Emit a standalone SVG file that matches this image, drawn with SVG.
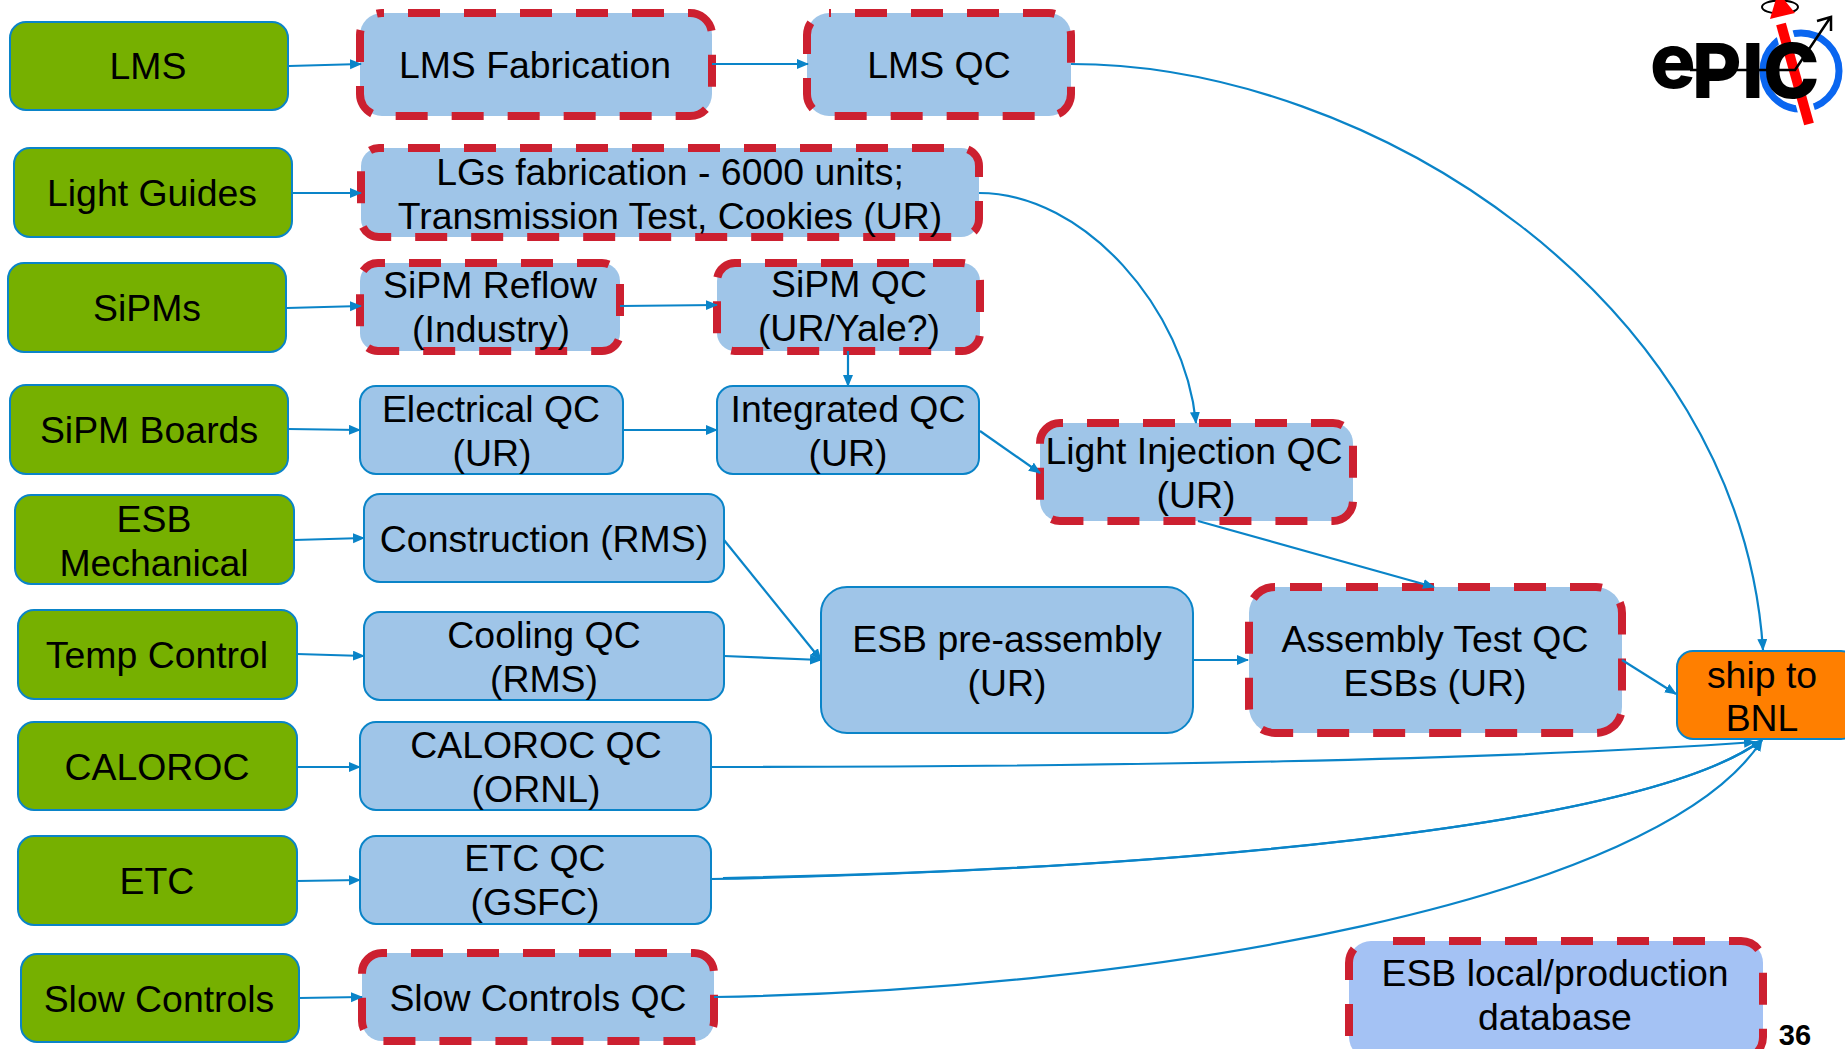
<svg xmlns="http://www.w3.org/2000/svg" width="1845" height="1049" viewBox="0 0 1845 1049">
<style>
.g{fill:#76B000;stroke:#0A84C8;stroke-width:2}
.b{fill:#9FC5E8;stroke:#0A84C8;stroke-width:2}
.o{fill:#FF7F00;stroke:#0A84C8;stroke-width:2}
.d{fill:#9FC5E8;stroke:none}
.e{fill:none;stroke:#CC2030;stroke-width:8;stroke-dasharray:32 24}
text{font-family:"Liberation Sans",Arial,sans-serif;font-size:37.4px;fill:#000;text-anchor:middle}
.c path{fill:none;stroke:#0A84C8;stroke-width:2.2;marker-end:url(#a)}
</style>
<defs><marker id="a" markerUnits="userSpaceOnUse" markerWidth="13" markerHeight="12" refX="11" refY="5" orient="auto"><path d="M0 0L12 5L0 10Z" fill="#0A84C8"/></marker></defs>
<g id="lms"><rect class="g" x="10" y="22" width="278" height="88" rx="16"/><text x="148" y="79">LMS</text></g>
<g id="light-guides"><rect class="g" x="14" y="148" width="278" height="89" rx="16"/><text x="152" y="206">Light Guides</text></g>
<g id="sipms"><rect class="g" x="8" y="263" width="278" height="89" rx="16"/><text x="147" y="321">SiPMs</text></g>
<g id="sipm-boards"><rect class="g" x="10" y="385" width="278" height="89" rx="16"/><text x="149" y="443">SiPM Boards</text></g>
<g id="esb-mechanical"><rect class="g" x="15" y="495" width="279" height="89" rx="16"/><text x="154" y="532">ESB</text><text x="154" y="576">Mechanical</text></g>
<g id="temp-control"><rect class="g" x="18" y="610" width="279" height="89" rx="16"/><text x="157" y="668">Temp Control</text></g>
<g id="caloroc"><rect class="g" x="18" y="722" width="279" height="88" rx="16"/><text x="157" y="780">CALOROC</text></g>
<g id="etc"><rect class="g" x="18" y="836" width="279" height="89" rx="16"/><text x="157" y="894">ETC</text></g>
<g id="slow-controls"><rect class="g" x="21" y="954" width="278" height="88" rx="16"/><text x="159" y="1012">Slow Controls</text></g>

<g id="lms-fabrication"><rect class="d" x="360" y="13" width="352" height="103" rx="22"/><rect class="e" x="360" y="13" width="352" height="103" rx="22" stroke-dashoffset="-26"/><text x="535" y="78">LMS Fabrication</text></g>
<g id="lms-qc"><rect class="d" x="807" y="13" width="264" height="103" rx="22"/><rect class="e" x="807" y="13" width="264" height="103" rx="22" stroke-dashoffset="-26"/><text x="939" y="78">LMS QC</text></g>
<g id="lgs"><rect class="d" x="361" y="148" width="618" height="89" rx="18"/><rect class="e" x="361" y="148" width="618" height="89" rx="18" stroke-dashoffset="-29"/><text x="670" y="185">LGs fabrication - 6000 units;</text><text x="670" y="229">Transmission Test, Cookies (UR)</text></g>
<g id="sipm-reflow"><rect class="d" x="360" y="263" width="260" height="88" rx="18"/><rect class="e" x="360" y="263" width="260" height="88" rx="18" stroke-dashoffset="-31"/><text x="490" y="298">SiPM Reflow</text><text x="491" y="342">(Industry)</text></g>
<g id="sipm-qc"><rect class="d" x="717" y="263" width="263" height="88" rx="18"/><rect class="e" x="717" y="263" width="263" height="88" rx="18" stroke-dashoffset="-30"/><text x="849" y="297">SiPM QC</text><text x="849" y="341">(UR/Yale?)</text></g>
<g id="electrical-qc"><rect class="b" x="360" y="386" width="263" height="88" rx="16"/><text x="491" y="422">Electrical QC</text><text x="492" y="466">(UR)</text></g>
<g id="integrated-qc"><rect class="b" x="717" y="386" width="262" height="88" rx="16"/><text x="848" y="422">Integrated QC</text><text x="848" y="466">(UR)</text></g>
<g id="light-injection-qc"><rect class="d" x="1040" y="423" width="313" height="98" rx="20"/><rect class="e" x="1040" y="423" width="313" height="98" rx="20" stroke-dashoffset="-27"/><text x="1194" y="464">Light Injection QC</text><text x="1196" y="508">(UR)</text></g>
<g id="construction"><rect class="b" x="364" y="494" width="360" height="88" rx="16"/><text x="544" y="552">Construction (RMS)</text></g>
<g id="cooling-qc"><rect class="b" x="364" y="612" width="360" height="88" rx="16"/><text x="544" y="648">Cooling QC</text><text x="544" y="692">(RMS)</text></g>
<g id="caloroc-qc"><rect class="b" x="360" y="722" width="351" height="88" rx="16"/><text x="536" y="758">CALOROC QC</text><text x="536" y="802">(ORNL)</text></g>
<g id="etc-qc"><rect class="b" x="360" y="836" width="351" height="88" rx="16"/><text x="535" y="871">ETC QC</text><text x="535" y="915">(GSFC)</text></g>
<g id="slow-controls-qc"><rect class="d" x="362" y="953" width="352" height="88" rx="20"/><rect class="e" x="362" y="953" width="352" height="88" rx="20" stroke-dashoffset="-29"/><text x="538" y="1011">Slow Controls QC</text></g>
<g id="esb-pre-assembly"><rect class="b" x="821" y="587" width="372" height="146" rx="26"/><text x="1007" y="652">ESB pre-assembly</text><text x="1007" y="696">(UR)</text></g>
<g id="assembly-test"><rect class="d" x="1249" y="587" width="373" height="146" rx="26"/><rect class="e" x="1249" y="587" width="373" height="146" rx="26" stroke-dashoffset="-15"/><text x="1435" y="652">Assembly Test QC</text><text x="1435" y="696">ESBs (UR)</text></g>
<g id="ship-to-bnl"><rect class="o" x="1677" y="651" width="180" height="88" rx="16"/><text x="1762" y="688">ship to</text><text x="1762" y="731">BNL</text></g>
<g id="esb-database"><rect x="1349" y="941" width="414" height="118" rx="22" fill="#A4C2F4"/><rect class="e" x="1349" y="941" width="414" height="118" rx="22" stroke-dashoffset="-22"/><text x="1555" y="986">ESB local/production</text><text x="1555" y="1030">database</text></g>
<g id="connectors" class="c">
<path d="M289 66L361 64"/>
<path d="M712 64L808 64"/>
<path d="M1071 64C1370 64 1740 300 1763 650"/>
<path d="M292 193L361 193"/>
<path d="M979 193C1085 193 1185 310 1196 423"/>
<path d="M287 308L361 306"/>
<path d="M620 306L717 305"/>
<path d="M848 351L848 386"/>
<path d="M288 429L360 430"/>
<path d="M623 430L717 430"/>
<path d="M980 431L1040 473"/>
<path d="M1198 521L1434 587"/>
<path d="M294 540L364 538"/>
<path d="M297 654L364 656"/>
<path d="M724 540L821 660"/>
<path d="M724 656L821 660"/>
<path d="M1193 660L1248 660"/>
<path d="M1622 660L1676 694"/>
<path d="M297 767L360 767"/>
<path d="M297 881L360 880"/>
<path d="M299 998L362 997"/>
<path d="M711 767C1100 767 1500 760 1755 742"/>
<path d="M711 879C1150 870 1640 830 1762 740"/>
<path d="M723 878C1150 870 1640 830 1762 740"/>
<path d="M714 997C1150 990 1660 900 1762 740"/>
</g>
<text x="1795" y="1045" style="font-size:29px;font-weight:700">36</text>
<g id="logo">
<circle cx="1801" cy="71" r="38" fill="none" stroke="#0A66F0" stroke-width="7"/>
<path d="M1811 128L1782 24" stroke="#FFF" stroke-width="17" fill="none"/>
<ellipse cx="1780" cy="7" rx="18" ry="6.5" fill="none" stroke="#000" stroke-width="2"/>
<path d="M1809 124L1781 24" stroke="#F00" stroke-width="10" fill="none"/>
<path d="M1770 19L1795 13L1778 -8Z" fill="#F00"/>
<path d="M1690 70H1795L1830 18M1817 21L1831 17L1831 31" fill="none" stroke="#000" stroke-width="2.5"/>
<text style="font-family:Inter,sans-serif;font-size:76px;font-weight:800;text-anchor:start"><tspan x="1650" y="88">e</tspan><tspan x="1692" y="98">P</tspan><tspan x="1742" y="98">I</tspan><tspan x="1763" y="98">C</tspan></text>
</g>
</svg>
